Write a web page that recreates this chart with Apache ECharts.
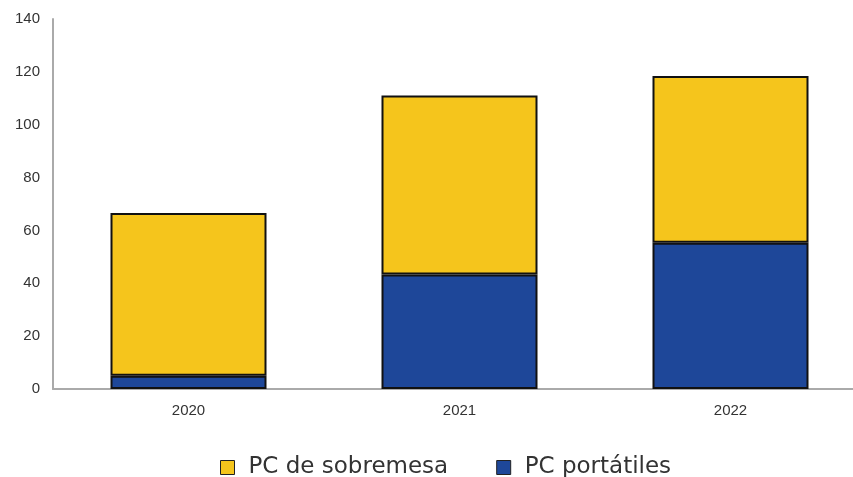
<!DOCTYPE html>
<html>
<head>
<meta charset="utf-8">
<script src="https://cdn.jsdelivr.net/npm/echarts@6/dist/echarts.min.js"></script>
<style>html,body{margin:0;padding:0;background:#fff;overflow:hidden;width:853px;height:477px;}#c{width:866px;height:477px;}</style>
</head>
<body>
<div id="c"></div>
<script>
const categories = ['2020', '2021', '2022'];
const portatiles = [5, 43.3, 55.3];
const sobremesa = [61.6, 67.8, 63.1];
const yTicks = [0, 20, 40, 60, 80, 100, 120, 140];

const chart = echarts.init(document.getElementById('c'), null, {renderer: 'canvas'});
chart.setOption({
  animation: false,
  backgroundColor: '#fff',
  grid: {left: 53, right: 0, top: 19, bottom: 88, containLabel: false},
  legend: {
    data: ['PC de sobremesa', 'PC portátiles'],
    top: 456,
    left: 220,
    padding: 0,
    itemWidth: 14,
    itemHeight: 14,
    itemGap: 48,
    icon: 'rect',
    itemStyle: {borderColor: '#222', borderWidth: 1},
    textStyle: {fontFamily: 'DejaVu Sans', fontSize: 23, color: '#333', padding: [0, 0, 0, 9]}
  },
  xAxis: {
    type: 'category',
    data: categories,
    axisLine: {lineStyle: {color: '#aaa', width: 2}},
    axisTick: {show: false},
    axisLabel: {fontFamily: 'Liberation Sans', fontSize: 15, color: '#333', margin: 14}
  },
  yAxis: {
    type: 'value',
    min: yTicks[0],
    max: yTicks[yTicks.length - 1],
    interval: 20,
    axisLine: {show: true, lineStyle: {color: '#aaa', width: 2}},
    axisTick: {show: false},
    splitLine: {show: false},
    axisLabel: {fontFamily: 'Liberation Sans', fontSize: 15, color: '#333', margin: 13}
  },
  series: [
    {
      name: 'PC portátiles', type: 'bar', stack: 'a', data: portatiles, barWidth: 156,
      itemStyle: {color: '#1E4799', borderColor: '#111', borderWidth: 2}
    },
    {
      name: 'PC de sobremesa', type: 'bar', stack: 'a', data: sobremesa, barWidth: 156,
      itemStyle: {color: '#F5C51C', borderColor: '#111', borderWidth: 2}
    }
  ]
});
</script>
</body>
</html>
